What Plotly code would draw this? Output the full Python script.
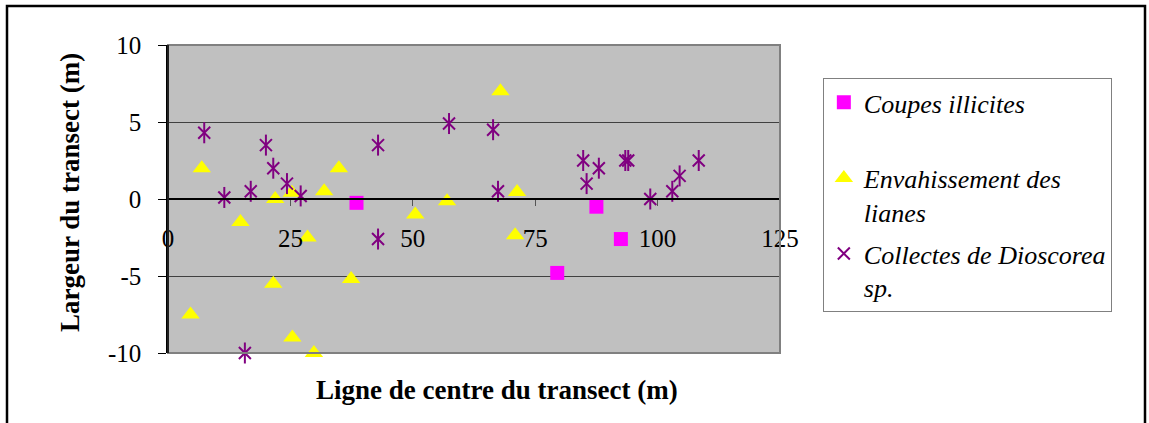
import plotly.graph_objects as go

# ---- data ----
coupes_x = [38.5, 79.5, 87.5, 92.5]
coupes_y = [-0.25, -4.8, -0.5, -2.6]

lianes_x = [4.6, 6.9, 14.8, 21.5, 21.9, 25.3, 25.4, 28.5, 29.8, 31.9, 34.9, 37.4, 50.5, 57.0, 67.9, 70.9, 71.3]
lianes_y = [-7.5, 2.0, -1.5, -5.5, 0.0, 0.4, -9.0, -2.5, -10.0, 0.5, 2.0, -5.2, -1.0, -0.15, 7.0, -2.35, 0.45]

dioscorea_x = [7.4, 11.5, 15.7, 16.9, 20.0, 21.5, 24.3, 27.1, 42.9, 42.9, 57.4, 66.4, 67.4,
               84.8, 85.5, 88.0, 93.4, 94.0, 98.5, 103.0, 104.5, 108.4]
dioscorea_y = [4.3, 0.1, -10.0, 0.5, 3.5, 2.0, 1.0, 0.2, 3.5, -2.6, 4.9, 4.5, 0.5,
               2.5, 1.0, 2.0, 2.5, 2.5, 0.0, 0.5, 1.5, 2.5]

x_ticks = [0, 25, 50, 75, 100, 125]
y_ticks = [-10, -5, 0, 5, 10]

names = ["Coupes illicites<br>\u00a0", "Envahissement des<br>lianes", "Collectes de Dioscorea<br>sp."]

FONT = "Liberation Serif, Times New Roman, serif"

fig = go.Figure()
fig.add_trace(go.Scatter(x=coupes_x, y=coupes_y, mode="markers", name=names[0],
                         legendgroup="a", cliponaxis=False,
                         marker=dict(symbol="square", size=14, color="#FF00FF")))
fig.add_trace(go.Scatter(x=lianes_x, y=lianes_y, mode="markers", name=names[1],
                         legendgroup="b", cliponaxis=False,
                         marker=dict(symbol="triangle-up", size=16, color="#FFFF00")))
fig.add_trace(go.Scatter(x=dioscorea_x, y=dioscorea_y, mode="markers", name=names[2],
                         legendgroup="c", cliponaxis=False,
                         marker=dict(symbol="x-thin-open", size=12, color="#800080",
                                     line=dict(width=2, color="#800080"))))
fig.add_trace(go.Scatter(x=dioscorea_x, y=dioscorea_y, mode="markers", showlegend=False,
                         legendgroup="c", cliponaxis=False, hoverinfo="skip",
                         marker=dict(symbol="line-ns-open", size=15, color="#800080",
                                     line=dict(width=2, color="#800080"))))

fig.update_layout(
    width=1149, height=423,
    margin=dict(l=168, r=369, t=45, b=70, autoexpand=False),
    paper_bgcolor="white", plot_bgcolor="#C0C0C0",
    font=dict(family=FONT, size=25, color="black"),
    showlegend=True,
    legend=dict(x=1.07, y=0.893, xanchor="left", yanchor="top",
                bgcolor="white", bordercolor="#808080", borderwidth=1,
                font=dict(family=FONT, size=26, style="italic"),
                tracegroupgap=5, valign="top", itemsizing="trace"),
    xaxis=dict(range=[0, 125], tickvals=x_ticks, ticktext=[str(v) for v in x_ticks],
               anchor="free", position=0.5, showline=True, linecolor="black", linewidth=1.5,
               ticks="outside", ticklen=6, tickcolor="#555", showgrid=False, zeroline=False,
               automargin=False,
               ticklabelstandoff=11, tickfont=dict(family=FONT, size=25)),
    yaxis=dict(range=[-10, 10], tickvals=y_ticks, ticktext=[str(v) for v in y_ticks],
               showline=True, linecolor="black", linewidth=1.5,
               ticks="outside", ticklen=8, tickcolor="black", automargin=False,
               showgrid=True, gridcolor="#404040", gridwidth=1, zeroline=False,
               ticklabelstandoff=12, tickfont=dict(family=FONT, size=25)),
    shapes=[
        dict(type="rect", xref="paper", yref="paper", x0=0, x1=1, y0=0, y1=1,
             line=dict(color="#808080", width=2), fillcolor="rgba(0,0,0,0)", layer="above"),
        dict(type="line", xref="paper", yref="paper", x0=0, x1=0, y0=0, y1=1,
             line=dict(color="black", width=1.5), layer="above"),
        dict(type="rect", xref="paper", yref="paper",
             x0=(7 - 168) / 612, x1=(1145 - 168) / 612, y0=-0.3, y1=(353 - 6) / 308,
             line=dict(color="black", width=2.5), fillcolor="rgba(0,0,0,0)", layer="above"),
    ],
    annotations=[
        dict(text="<b>Ligne de centre du transect (m)</b>", xref="paper", yref="paper",
             x=(497 - 168) / 612, y=(353 - 390) / 308, showarrow=False,
             xanchor="center", yanchor="middle", font=dict(family=FONT, size=27)),
        dict(text="<b>Largeur du transect (m)</b>", xref="paper", yref="paper",
             x=(70 - 168) / 612, y=(353 - 193) / 308, showarrow=False, textangle=-90,
             xanchor="center", yanchor="middle", font=dict(family=FONT, size=27)),
    ],
)

fig.write_html("out.html", config={"displayModeBar": False},
               post_script="document.body.style.margin='0';")
